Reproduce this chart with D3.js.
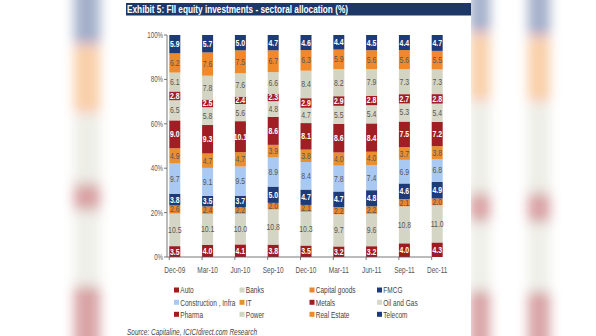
<!DOCTYPE html>
<html><head><meta charset="utf-8">
<script src="https://cdn.jsdelivr.net/npm/d3@7"></script>
<style>
html,body{margin:0;padding:0;background:#fff;}
svg{display:block;}
</style></head>
<body>
<svg id="chart" width="596" height="336"></svg>
<script>
// ---- data ----
const categories = ["Dec-09","Mar-10","Jun-10","Sep-10","Dec-10","Mar-11","Jun-11","Sep-11","Dec-11"];
const seriesNames = ["Auto","Banks","Capital goods","FMCG","Construction , Infra","IT","Metals","Oil and Gas","Pharma","Power","Real Estate","Telecom"];
const auto       = [3.5,4.0,4.1,3.8,3.5,3.2,3.2,4.0,4.3];
const banks      = [10.5,10.1,10.0,10.8,10.3,9.7,9.6,10.8,11.0];
const capGoods   = [2.6,2.4,2.2,2.0,2.1,2.2,2.2,2.1,2.0];
const fmcg       = [3.8,3.5,3.7,5.0,4.7,4.7,4.8,4.6,4.9];
const constInfra = [9.7,9.1,9.5,8.9,8.4,7.8,7.4,6.9,6.8];
const itSector   = [4.9,4.7,4.7,3.9,3.8,4.0,4.0,3.7,3.8];
const metals     = [9.0,9.3,10.1,8.6,8.1,8.6,8.4,7.5,7.2];
const oilGas     = [6.5,5.8,5.6,4.8,4.7,5.5,5.4,5.3,5.4];
const pharma     = [2.8,2.5,2.4,2.3,2.9,2.9,2.8,2.7,2.8];
const power      = [6.1,7.8,7.6,6.6,8.4,8.2,7.9,7.3,7.3];
const realEstate = [6.2,7.6,7.5,6.7,6.3,5.9,5.6,5.6,5.5];
const telecom    = [5.9,5.7,5.0,4.7,4.6,4.4,4.5,4.4,4.7];
const yTicks = [0,20,40,60,80,100];
const yTickLabels = ["0%","20%","40%","60%","80%","100%"];
const titleText = "Exhibit 5: FII equity investments - sectoral allocation (%)";
const sourceText = "Source: Capitaline, ICICIdirect.com Research";

const seriesValues = [auto,banks,capGoods,fmcg,constInfra,itSector,metals,oilGas,pharma,power,realEstate,telecom];
const colors = ["#9e1b20","#d5d5c5","#e9862c","#1f3a78","#a9c9f2","#e8902f","#a01f24","#d8d8c8","#a31c22","#d3d4c2","#f0892b","#1d3a7b"];
const darkSeries = new Set(["Auto","FMCG","Metals","Pharma","Telecom"]);

const FONT = "'Liberation Sans',Arial,sans-serif";
function narrow(factor){
  return sel => sel.each(function(){
    const w = this.getComputedTextLength();
    d3.select(this).attr("textLength",w*factor).attr("lengthAdjust","spacingAndGlyphs");
  });
}

// build table
const table = categories.map((c,i)=>{
  const row = {cat:c};
  let tot = 0;
  seriesNames.forEach((s,k)=>{ row[s]=seriesValues[k][i]; tot += seriesValues[k][i]; });
  row.total = tot;
  return row;
});
const norm = table.map(r=>{
  const o={cat:r.cat};
  seriesNames.forEach(s=>o[s]=r[s]/r.total*100);
  return o;
});
const stacked = d3.stack().keys(seriesNames)(norm);

const svg = d3.select("#chart");

// ---- blurred side panels (decorative) ----
const defs = svg.append("defs");
defs.append("filter").attr("id","blur").attr("x","-50%").attr("y","-50%").attr("width","200%").attr("height","200%")
  .append("feGaussianBlur").attr("stdDeviation",6);
const side = svg.append("g").attr("filter","url(#blur)").attr("opacity",0.4);
const sideY = d3.scaleLinear().domain([55,100]).range([336,-20]);
[[74,26,0],[470,20,7],[528,22,8]].forEach(([x0,w,ci])=>{
  side.selectAll(null).data(stacked).enter().append("rect")
    .attr("x",x0).attr("width",w)
    .attr("y",d=>sideY(d[ci][1])).attr("height",d=>Math.max(0,sideY(d[ci][0])-sideY(d[ci][1])))
    .attr("fill",(d,k)=>colors[k]);
});
// white chart panel
svg.append("rect").attr("x",123).attr("y",0).attr("width",348).attr("height",336).attr("fill","#fff");

// ---- title ----
svg.append("rect").attr("x",126).attr("y",3).attr("width",345).attr("height",12.5).attr("fill","#1d3767");
svg.append("text").attr("x",127).attr("y",13).text(titleText)
  .attr("font-family",FONT).attr("font-weight","bold").attr("font-size",10.5).attr("fill","#fff")
  .attr("textLength",221).attr("lengthAdjust","spacingAndGlyphs");

// ---- scales ----
const x = d3.scaleBand().domain(categories).range([169.3,442.7]).paddingInner(1-11/32.8).paddingOuter(0);
const y = d3.scaleLinear().domain([0,100]).range([257,35]);

// bars
const g = svg.append("g");
stacked.forEach((layer,k)=>{
  g.selectAll(null).data(layer).enter().append("rect")
    .attr("x",d=>x(d.data.cat)).attr("width",x.bandwidth())
    .attr("y",d=>y(d[1])).attr("height",d=>y(d[0])-y(d[1]))
    .attr("fill",colors[k]);
});
// labels
stacked.forEach((layer,k)=>{
  const name = seriesNames[k];
  const dark = darkSeries.has(name);
  g.selectAll(null).data(layer).enter().append("text")
    .attr("x",d=>x(d.data.cat)+x.bandwidth()/2)
    .attr("y",d=>(y(d[0])+y(d[1]))/2+3)
    .attr("text-anchor","middle")
    .attr("font-family",FONT).attr("font-size",8.6)
    .attr("font-weight",dark?"bold":"normal")
    .attr("fill",dark?"#fff":"#555")
    .text((d,i)=>seriesValues[k][i].toFixed(1))
    .call(narrow(0.8));
});

// y axis
const axG = svg.append("g").attr("stroke","#555").attr("stroke-width",0.8);
axG.append("line").attr("x1",167).attr("x2",167).attr("y1",y(100)).attr("y2",y(0));
axG.selectAll(null).data(yTicks).enter().append("line")
  .attr("x1",164).attr("x2",167).attr("y1",d=>y(d)).attr("y2",d=>y(d));
svg.selectAll(null).data(yTicks).enter().append("text")
  .attr("x",163).attr("y",d=>y(d)+3).attr("text-anchor","end")
  .attr("font-family",FONT).attr("font-size",8.5).attr("fill","#555")
  .text((d,i)=>yTickLabels[i]).call(narrow(0.72));

// x axis
axG.append("line").attr("x1",167).attr("x2",x(categories[categories.length-1])).attr("y1",y(0)).attr("y2",y(0));
axG.selectAll(null).data(categories).enter().append("line")
  .attr("x1",d=>x(d)).attr("x2",d=>x(d)).attr("y1",y(0)).attr("y2",y(0)+3);
svg.selectAll(null).data(categories).enter().append("text")
  .attr("x",d=>x(d)+x.bandwidth()/2).attr("y",272.5).attr("text-anchor","middle")
  .attr("font-family",FONT).attr("font-size",9).attr("fill","#555").text(d=>d).call(narrow(0.72));

// legend (horizontally condensed via transform)
const colX = [174,239.5,309.5,377];
const rowY = [290,302.3,314.3];
const leg = svg.append("g");
seriesNames.forEach((s,k)=>{
  const cx = colX[k%4], cy = rowY[Math.floor(k/4)];
  leg.append("rect").attr("x",cx).attr("y",cy-2.5).attr("width",5).attr("height",5).attr("fill",colors[k]);
  leg.append("text").attr("transform",`translate(${cx+6.3},${cy+3.2}) scale(0.74,1)`).text(s)
    .attr("font-family",FONT).attr("font-size",8.8).attr("fill","#444");
});

// source
svg.append("text").attr("x",127).attr("y",335).text(sourceText)
  .attr("font-family",FONT).attr("font-style","italic").attr("font-size",8.5).attr("fill","#444")
  .attr("textLength",130).attr("lengthAdjust","spacingAndGlyphs");
</script>
</body></html>
